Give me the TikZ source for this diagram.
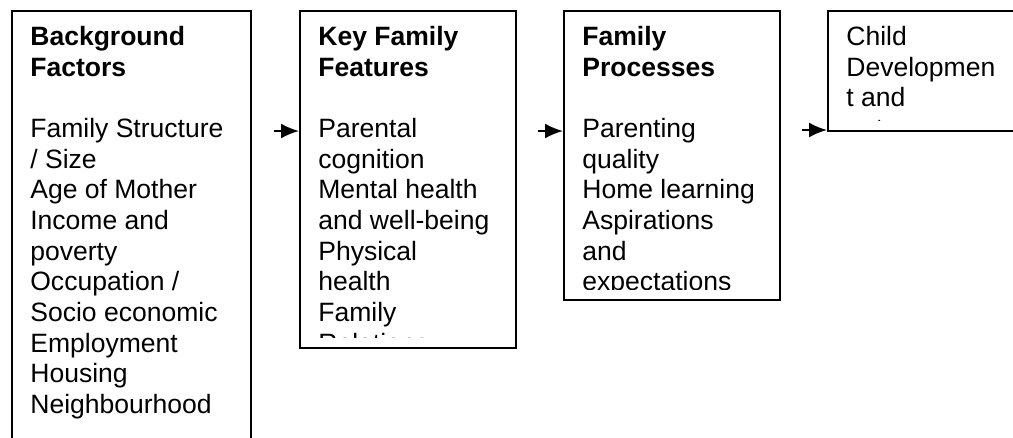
\documentclass[tikz,border=0pt]{standalone}
\usepackage{fontspec}
\setmainfont{Liberation Sans}
\usepackage{tikz}
\usetikzlibrary{arrows.meta,calc,positioning}
\tikzset{%
	box/.style     = {draw, rectangle, line width=1.1pt, inner sep=0pt, anchor=north west},
	boxtext/.style = {anchor=north west, inner sep=0pt, align=left, font=\fontsize{15.1}{17.45}\selectfont},
	arrow/.style   = {line width=1.1pt, -{Latex[length=0.36cm,width=0.3cm]}},
}

\begin{document}
\begin{tikzpicture}[x=0.02cm,y=-0.02cm]
	\path[use as bounding box, clip] (0,0) rectangle (1013,437);
	
	\node[box, minimum width=4.78cm, minimum height=9.5cm] (bgf) at (11,10) {};
	\node[box, minimum width=4.32cm, minimum height=6.74cm] (kff) at (299,10) {};
	\node[box, minimum width=4.32cm, minimum height=5.78cm] (fpr) at (563,10) {};
	\node[box, minimum width=4.3cm, minimum height=2.4cm] (cdo) at (827,10) {};
	
	\node[boxtext] (bgftxt) at ([xshift=0.38cm,yshift=-0.32cm]bgf.north west) {\textbf{Background}\\\textbf{Factors}\\[17.45pt]Family Structure\\/ Size\\Age of Mother\\Income and\\poverty\\Occupation /\\Socio economic\\Employment\\Housing\\Neighbourhood};
	\begin{scope}
		\clip (kff.north west) rectangle ([yshift=0.22cm]kff.south east);
		\node[boxtext] (kfftxt) at ([xshift=0.38cm,yshift=-0.32cm]kff.north west) {\textbf{Key Family}\\\textbf{Features}\\[17.45pt]Parental\\cognition\\Mental health\\and well-being\\Physical\\health\\Family\\Relations};
	\end{scope}
	\begin{scope}
		\clip (fpr.north west) rectangle ([yshift=0.22cm]fpr.south east);
		\node[boxtext] (fprtxt) at ([xshift=0.38cm,yshift=-0.32cm]fpr.north west) {\textbf{Family}\\\textbf{Processes}\\[17.45pt]Parenting\\quality\\Home learning\\Aspirations\\and\\expectations};
	\end{scope}
	\begin{scope}
		\clip (cdo.north west) rectangle ([yshift=0.22cm]cdo.south east);
		\node[boxtext] (cdotxt) at ([xshift=0.38cm,yshift=-0.32cm]cdo.north west) {Child\\Developmen\\t and\\outcomes};
	\end{scope}
	
	\coordinate (a1) at (274,131);
	\coordinate (a2) at (538,131);
	\coordinate (a3) at (802,130);
	\draw[arrow] (a1) -- (a1 -| kff.west);
	\draw[arrow] (a2) -- (a2 -| fpr.west);
	\draw[arrow] (a3) -- (a3 -| cdo.west);
\end{tikzpicture}
\end{document}
